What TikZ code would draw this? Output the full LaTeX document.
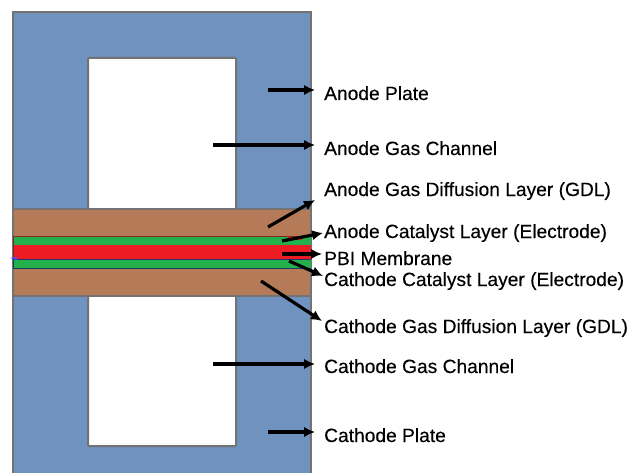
\documentclass[tikz,border=0pt]{standalone}
\usepackage{fontspec}
\setmainfont[FakeBold=0.25]{Liberation Sans}
\usetikzlibrary{arrows.meta}
\definecolor{plateblue}{RGB}{112,146,190}
\definecolor{gdlbrown}{RGB}{181,122,87}
\definecolor{catgreen}{RGB}{34,177,76}
\definecolor{memred}{RGB}{237,28,36}
\definecolor{edgegray}{RGB}{115,115,115}
\tikzset{
  plate/.style={fill=plateblue,draw=edgegray,line width=2pt},
  channel/.style={fill=white,draw=edgegray,line width=2pt,rounded corners=1pt},
  lbl/.style={anchor=base west,inner sep=0pt,font=\fontsize{19.2}{22}\selectfont,text=black},
  pointer/.style={draw=black,line width=3.2pt,-{Latex[length=11pt,width=10.5pt]}}
}
\begin{document}
\begin{tikzpicture}[x=1pt,y=-1pt]
\useasboundingbox (0,0) rectangle (639,473);
\fill[white] (0,0) rectangle (639,473);
% plate
\path[plate] (13,476) -- (13,12) -- (311,12) -- (311,476);
% channels
\path[channel] (88,58) rectangle (236,212);
\path[channel] (88,292) rectangle (236,446);
% layers
\path[fill=gdlbrown,draw=edgegray,line width=1.8pt] (13,209) rectangle (311,296);
\fill[catgreen] (13,236) rectangle (311,245);
\fill[memred] (13,245) rectangle (311,259);
\fill[catgreen] (13,259) rectangle (311,268);
\draw[draw={rgb,255:red,130;green,40;blue,30},line width=0.9pt] (13,236) -- (311,236);
\draw[draw={rgb,255:red,45;green,45;blue,110},line width=0.9pt] (13,259) -- (311,259);
\draw[draw={rgb,255:red,30;green,60;blue,90},line width=0.9pt] (13,268) -- (311,268);
\draw[draw={rgb,255:red,130;green,40;blue,30},line width=0.9pt] (13,236) -- (13,259);
\draw[draw={rgb,255:red,30;green,60;blue,90},line width=0.9pt] (13,259) -- (13,268);
\fill[memred] (288,237) rectangle (302,240);
\fill[blue!70!white] (10,258) -- (17,257) -- (17,260) -- cycle;
% labels
\node[lbl] (l1) at (324,100) {Anode Plate};
\node[lbl] (l2) at (324,155) {Anode Gas Channel};
\node[lbl] (l3) at (324,196) {Anode Gas Diffusion Layer (GDL)};
\node[lbl] (l4) at (324,238) {Anode Catalyst Layer (Electrode)};
\node[lbl] (l5) at (324,265) {PBI Membrane};
\node[lbl] (l6) at (324,286) {Cathode Catalyst Layer (Electrode)};
\node[lbl] (l7) at (324,333) {Cathode Gas Diffusion Layer (GDL)};
\node[lbl] (l8) at (324,373) {Cathode Gas Channel};
\node[lbl] (l9) at (324,442) {Cathode Plate};
% pointer ends
\coordinate (s1) at (268,90);  \coordinate (t1) at (315,90);
\coordinate (s2) at (213,145); \coordinate (t2) at (315,145);
\coordinate (s3) at (268,227); \coordinate (t3) at (315,200);
\coordinate (s4) at (282,241); \coordinate (t4) at (323,233);
\coordinate (s5) at (282,254); \coordinate (t5) at (322,254);
\coordinate (s6) at (289,261); \coordinate (t6) at (323,276);
\coordinate (s7) at (261,281); \coordinate (t7) at (322,321);
\coordinate (s8) at (213,364); \coordinate (t8) at (315,364);
\coordinate (s9) at (268,432); \coordinate (t9) at (315,432);
\foreach \i in {1,...,9} \draw[pointer] (s\i) -- (t\i);
\end{tikzpicture}
\end{document}
